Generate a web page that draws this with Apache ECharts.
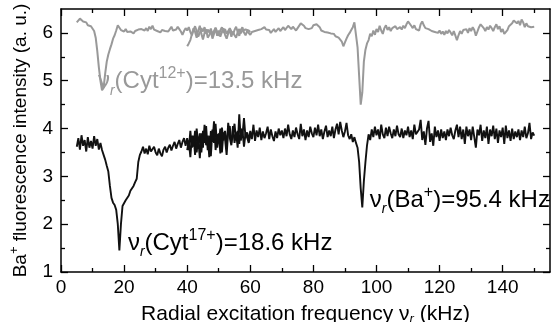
<!DOCTYPE html>
<html>
<head>
<meta charset="utf-8">
<script src="https://cdn.jsdelivr.net/npm/echarts@6/dist/echarts.min.js"></script>
<style>html,body{margin:0;padding:0;background:#fff;}#c{width:554px;height:322px;}</style>
</head>
<body>
<div id="c"></div>
<script>
// ---- data (x sampled every 0.5 kHz starting at the given start value) ----
const X_STEP = 0.5;
const grayScan1Start = 5;
const grayScan1 = [
  6.22, 6.25, 6.30, 6.26, 6.24, 6.20, 6.22, 6.16, 6.18, 6.14, // 5
  6.10, 6.04, 5.90, 5.62, 5.28, 5.00, 4.80, 4.85, 5.15, 5.40, // 10
  5.55, 5.66, 5.76, 5.88, 5.95, 6.05, 6.16, 6.12, 6.06, 6.10, // 15
  6.03, 6.08, 6.02, 6.06, 6.03, 6.05, 5.99, 6.04, 6.00, 6.07, // 20
  6.03, 6.08, 6.12, 6.05, 6.10, 6.04, 6.13, 6.08, 6.15, 6.07, // 25
  6.10, 6.04, 6.07, 6.01, 6.06, 6.02, 6.04, 6.00, 6.03, 6.08, // 30
  6.13, 6.05, 6.02, 6.07, 6.13, 6.08, 6.03, 5.96, 6.04, 6.10, // 35
  6.05, 6.12, 6.02, 5.95, 6.06, 6.14, 6.04, 5.92, 6.00, 6.10, // 40
  6.03, 6.12, 5.98, 6.07, 6.01, 6.09, 5.96, 6.04, 6.11, 6.02, // 45
  5.94, 6.05, 6.12, 6.00, 6.08, 5.98, 6.04, 6.10, 6.03, 5.97, // 50
  6.06, 6.13, 6.02, 6.08, 5.99, 6.05, 6.01, 6.07, 6.03, 6.05, // 55
  6.02                                                        // 60
];
const grayScan2Start = 40;
const grayScan2 = [
  5.72, 5.78, 5.85, 5.97, 6.10, 6.02, 5.90, 6.05, 6.15, 5.98, // 40
  5.86, 6.00, 6.08, 5.90, 5.95, 6.06, 5.88, 5.98, 6.10, 5.94, // 45
  6.05, 5.92, 6.02, 6.10, 5.96, 5.88, 5.99, 6.06, 5.92, 6.03, // 50
  5.95, 5.90, 6.02, 5.94, 6.06, 6.12, 6.01, 5.95, 6.04, 6.00, // 55
  5.96, 6.02, 5.98, 6.04, 6.00, 6.06, 6.03, 6.08, 6.04, 6.12, // 60
  6.07, 6.03, 6.06, 6.00, 6.04, 6.08, 6.02, 6.05, 6.10, 6.04, // 65
  6.08, 6.12, 6.06, 6.10, 6.15, 6.11, 6.08, 6.13, 6.09, 6.05, // 70
  6.10, 6.14, 6.20, 6.24, 6.15, 6.10, 6.14, 6.08, 6.12, 6.10, // 75
  6.16, 6.12, 6.18, 6.22, 6.12, 6.05, 6.08, 6.02, 5.98, 6.01, // 80
  5.97, 5.99, 5.95, 5.98, 5.93, 5.96, 5.90, 5.94, 5.82, 5.72, // 85
  5.80, 5.88, 5.95, 6.00, 6.06, 6.12, 6.22, 6.18, 5.70, 5.10, // 90
  4.50, 4.75, 5.40, 5.65, 5.78, 5.85, 5.98, 5.93, 6.05, 5.96, // 95
  6.08, 6.02, 6.15, 6.05, 5.98, 6.10, 6.16, 6.06, 6.12, 6.04, // 100
  6.10, 6.06, 6.14, 6.08, 6.05, 6.12, 6.07, 6.15, 6.10, 6.18, // 105
  6.24, 6.27, 6.15, 6.10, 6.16, 6.08, 6.12, 6.05, 6.18, 6.24, // 110
  6.16, 6.10, 6.14, 6.08, 6.10, 6.04, 6.08, 6.02, 6.06, 6.00, // 115
  6.05, 5.98, 6.03, 5.96, 6.04, 5.99, 6.06, 6.01, 5.95, 6.04, // 120
  6.00, 5.85, 5.95, 6.04, 5.98, 6.06, 6.02, 6.08, 6.00, 6.10, // 125
  6.04, 6.12, 6.06, 5.94, 6.03, 6.12, 6.18, 6.22, 6.10, 6.04, // 130
  6.12, 6.07, 6.15, 6.10, 6.04, 6.12, 6.18, 6.08, 6.14, 6.02, // 135
  6.08, 5.98, 5.94, 6.06, 6.14, 6.10, 6.20, 6.26, 6.30, 6.20, // 140
  6.25, 6.16, 6.28, 6.22, 6.12, 6.20, 6.14, 6.17, 6.12, 6.15, // 145
  6.13                                                        // 150
];
const blackScan1Start = 5;
const blackScan1 = [
  3.62, 3.80, 3.56, 3.86, 3.64, 3.76, 3.52, 3.82, 3.60, 3.74, // 5
  3.58, 3.84, 3.64, 3.78, 3.56, 3.70, 3.55, 3.45, 3.35, 3.22, // 10
  3.10, 2.80, 2.55, 2.45, 2.40, 2.30, 2.00, 1.45, 2.00, 2.38, // 15
  2.42, 2.50, 2.48, 2.60, 2.70, 2.72, 2.80, 2.88, 2.95, 3.30, // 20
  3.45, 3.52, 3.62, 3.48, 3.58, 3.46, 3.64, 3.52, 3.48, 3.62, // 25
  3.50, 3.44, 3.58, 3.48, 3.42, 3.56, 3.62, 3.50, 3.60, 3.66, // 30
  3.54, 3.64, 3.72, 3.58, 3.68, 3.76, 3.60, 3.72, 3.80, 3.64, // 35
  3.80, 3.55, 3.95, 3.60, 3.85, 3.45, 4.00, 3.65, 3.90, 3.50, // 40
  3.95, 3.70, 4.05, 3.55, 3.85, 3.42, 3.98, 3.70, 4.10, 3.60, // 45
  3.90, 3.48, 4.02, 3.75, 3.95, 3.58, 4.12, 3.80, 3.65, 4.05, // 50
  3.70, 3.92, 3.60, 4.30, 3.75, 3.98, 3.62, 3.90, 3.82, 3.70, // 55
  3.85                                                        // 60
];
const blackScan2Start = 40;
const blackScan2 = [
  3.55, 3.75, 3.40, 3.85, 3.62, 3.95, 3.50, 3.80, 3.38, 3.90, // 40
  3.60, 4.08, 3.65, 3.85, 3.40, 3.95, 3.72, 4.15, 3.55, 3.88, // 45
  3.70, 4.00, 3.50, 3.92, 3.78, 3.45, 3.95, 4.05, 3.70, 3.88, // 50
  4.10, 3.75, 3.95, 3.68, 4.00, 3.85, 4.22, 3.80, 3.92, 3.75, // 55
  3.95, 3.78, 4.08, 3.74, 3.96, 3.82, 4.02, 3.76, 3.94, 3.80, // 60
  3.90, 4.04, 3.78, 3.98, 3.84, 3.74, 3.94, 3.80, 4.00, 3.86, // 65
  3.96, 3.80, 4.00, 3.84, 4.08, 3.88, 3.78, 3.96, 3.82, 4.02, // 70
  3.88, 3.78, 4.10, 3.84, 3.98, 3.76, 3.96, 3.82, 4.04, 3.90, // 75
  3.82, 4.02, 3.86, 4.08, 3.84, 3.98, 3.78, 3.94, 4.06, 3.82, // 80
  3.96, 3.84, 4.04, 3.80, 3.98, 4.10, 3.88, 4.14, 3.96, 3.82, // 85
  3.94, 4.12, 3.86, 3.78, 3.88, 3.72, 3.82, 3.70, 3.60, 3.30, // 90
  2.75, 2.35, 2.90, 3.30, 3.65, 3.88, 3.76, 3.98, 3.82, 4.04, // 95
  3.86, 3.98, 3.78, 4.08, 3.88, 3.80, 4.02, 3.84, 4.04, 3.90, // 100
  3.80, 3.98, 3.84, 4.06, 3.88, 3.82, 4.00, 3.80, 3.96, 3.86, // 105
  4.04, 3.82, 3.96, 3.78, 4.08, 3.88, 3.84, 3.98, 4.18, 3.76, // 110
  3.94, 3.66, 4.00, 4.16, 3.72, 3.90, 3.64, 4.04, 3.82, 3.96, // 115
  3.74, 3.98, 3.80, 3.94, 3.76, 3.98, 3.84, 4.02, 3.86, 3.78, // 120
  3.96, 4.08, 3.82, 4.04, 3.78, 3.98, 3.68, 4.04, 3.84, 3.98, // 125
  3.76, 4.04, 3.82, 3.60, 3.98, 3.86, 4.08, 3.74, 3.96, 3.80, // 130
  4.04, 3.68, 3.98, 3.84, 4.06, 3.78, 4.00, 3.70, 3.96, 3.82, // 135
  4.02, 3.68, 4.06, 3.80, 3.96, 3.74, 4.00, 3.78, 3.94, 3.82, // 140
  3.98, 3.76, 3.96, 3.82, 4.04, 3.80, 3.90, 4.12, 3.78, 3.92, // 145
  3.85                                                        // 150
];

const xMajorTicks = [0, 20, 40, 60, 80, 100, 120, 140];
const xMinorTicks = [10, 30, 50, 70, 90, 110, 130, 150];
const yMajorTicks = [1, 2, 3, 4, 5, 6];
const yMinorTicks = [1.5, 2.5, 3.5, 4.5, 5.5];

// annotations: text parts and anchor in data coordinates (kHz, a.u.)
const annotations = [
  { ion: 'Cyt', charge: '12+', value: '13.5', at: [11.7, 4.98], color: '#999999' },
  { ion: 'Cyt', charge: '17+', value: '18.6', at: [21.2, 1.6], color: '#000000' },
  { ion: 'Ba',  charge: '+',   value: '95.4', at: [97.9, 2.5], color: '#000000' }
];

// ---- chart ----
const FONT = "'Liberation Sans', Arial, Helvetica, sans-serif";
function toPairs(start, arr) { return arr.map((v, i) => [start + i * X_STEP, v]); }

const axisLineStyle = { color: '#000', width: 1.5 };
function xAxisDef(pos, ticks, len, withLabels, withLine) {
  const a = {
    type: 'value', min: 0, max: 155, position: pos,
    axisLine: { show: withLine, onZero: false, lineStyle: axisLineStyle },
    axisTick: { show: true, inside: true, length: len, customValues: ticks, lineStyle: { color: '#000', width: 1.3 } },
    axisLabel: { show: withLabels, customValues: ticks, fontSize: 19, color: '#000', margin: 6, fontFamily: FONT },
    splitLine: { show: false }
  };
  if (withLabels) {
    a.name = 'Radial excitation frequency ν{s|r} (kHz)';
    a.nameLocation = 'middle';
    a.nameGap = 28;
    a.nameTextStyle = { fontSize: 21, color: '#000', fontFamily: FONT, lineHeight: 24,
      rich: { s: { fontSize: 13, fontStyle: 'italic', color: '#000', fontFamily: FONT, verticalAlign: 'bottom', lineHeight: 14 } } };
  }
  return a;
}
function yAxisDef(pos, ticks, len, withLabels, withLine) {
  const a = {
    type: 'value', min: 1, max: 6.5, position: pos,
    axisLine: { show: withLine, onZero: false, lineStyle: axisLineStyle },
    axisTick: { show: true, inside: true, length: len, customValues: ticks, lineStyle: { color: '#000', width: 1.3 } },
    axisLabel: { show: withLabels, customValues: ticks, fontSize: 19, color: '#000', margin: 8, fontFamily: FONT },
    splitLine: { show: false }
  };
  if (withLabels) {
    a.name = '{n|Ba}{p|+}{n| fluorescence intensity (a. u.)}';
    a.nameLocation = 'middle';
    a.nameGap = 27;
    a.nameTextStyle = { fontSize: 19, color: '#000', fontFamily: FONT,
      rich: {
        n: { fontSize: 19, color: '#000', fontFamily: FONT, lineHeight: 26 },
        p: { fontSize: 13, color: '#000', fontFamily: FONT, verticalAlign: 'top', lineHeight: 14 }
      } };
  }
  return a;
}

const chart = echarts.init(document.getElementById('c'), null, { renderer: 'canvas' });
chart.setOption({
  animation: false,
  backgroundColor: '#fff',
  grid: { left: 61, right: 4, top: 9, bottom: 50, outerBoundsMode: 'none' },
  xAxis: [
    xAxisDef('bottom', xMajorTicks, 7, true, true),
    xAxisDef('bottom', xMinorTicks, 4, false, false),
    xAxisDef('top', xMajorTicks, 7, false, true),
    xAxisDef('top', xMinorTicks, 4, false, false)
  ],
  yAxis: [
    yAxisDef('left', yMajorTicks, 7, true, true),
    yAxisDef('left', yMinorTicks, 4, false, false),
    yAxisDef('right', yMajorTicks, 7, false, true),
    yAxisDef('right', yMinorTicks, 4, false, false)
  ],
  series: [
    { type: 'line', xAxisIndex: 0, yAxisIndex: 0, data: toPairs(grayScan1Start, grayScan1), showSymbol: false, lineStyle: { color: '#999999', width: 2 }, z: 2 },
    { type: 'line', xAxisIndex: 0, yAxisIndex: 0, data: toPairs(grayScan2Start, grayScan2), showSymbol: false, lineStyle: { color: '#999999', width: 2 }, z: 2 },
    { type: 'line', xAxisIndex: 0, yAxisIndex: 0, data: toPairs(blackScan1Start, blackScan1), showSymbol: false, lineStyle: { color: '#111', width: 1.9 }, z: 3 },
    { type: 'line', xAxisIndex: 0, yAxisIndex: 0, data: toPairs(blackScan2Start, blackScan2), showSymbol: false, lineStyle: { color: '#111', width: 1.9 }, z: 3 }
  ]
});

const graphics = annotations.map(a => {
  const p = chart.convertToPixel({ xAxisIndex: 0, yAxisIndex: 0 }, a.at);
  const base = { fontSize: 24, fontFamily: FONT, fill: a.color, lineHeight: 32 };
  return {
    type: 'text', x: p[0], y: p[1], z: 10,
    style: {
      text: '{m|ν}{s|r}{m|(' + a.ion + '}{p|' + a.charge + '}{m|)=' + a.value + ' kHz}',
      fill: a.color, font: '24px ' + FONT,
      align: 'left', verticalAlign: 'middle',
      rich: {
        m: base,
        s: { fontSize: 14, fontStyle: 'italic', fontFamily: FONT, fill: a.color, verticalAlign: 'bottom', lineHeight: 14 },
        p: { fontSize: 16, fontFamily: FONT, fill: a.color, verticalAlign: 'top', lineHeight: 16 }
      }
    }
  };
});
chart.setOption({ graphic: graphics });
</script>
</body>
</html>
